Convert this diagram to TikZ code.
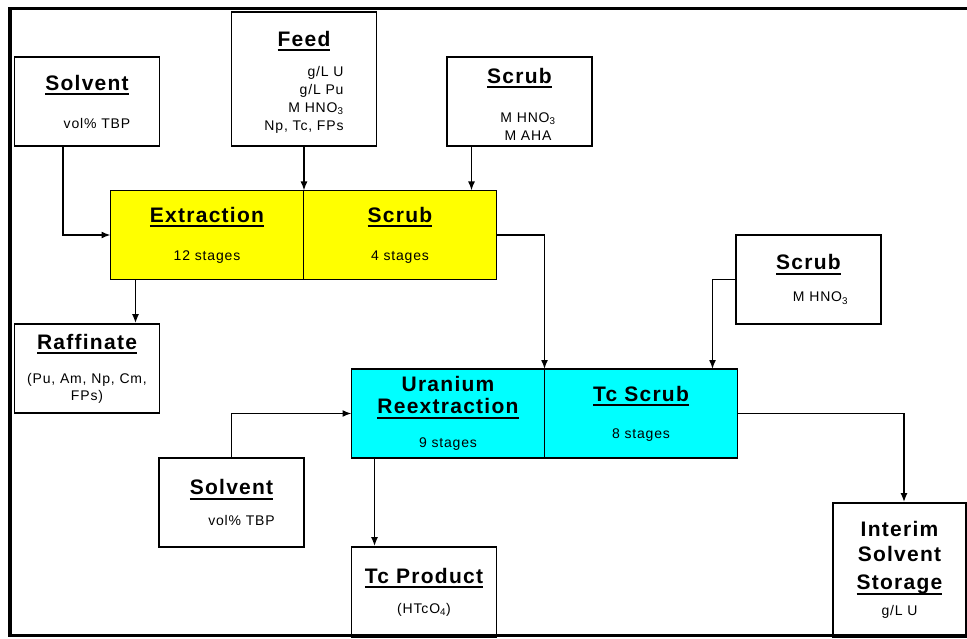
\documentclass[tikz,border=0pt]{standalone}
\usepackage{fontspec}
\setmainfont{Liberation Sans}[LetterSpace=6]
\usetikzlibrary{arrows.meta, positioning}
\definecolor{stageyellow}{RGB}{255,255,0}
\definecolor{stagecyan}{RGB}{0,255,255}
\newcommand{\tl}[1]{{\bfseries\fontsize{21}{24}\selectfont #1}}
\newcommand{\hd}[1]{\setbox0\hbox{\tl{#1}}\copy0\llap{\rule[-5pt]{\wd0}{2pt}}}

\begin{document}
\begin{tikzpicture}[-{Latex[length=9pt,width=7pt]}, x=1pt, y=-1pt, line width=1.5pt,
    box/.style={draw, line width=1.8pt, align=center, inner sep=0pt,
      minimum width=145pt, minimum height=89pt, font=\fontsize{14}{18}\selectfont},
    stage/.style={box, minimum width=193pt, outer sep=0pt}]
  \useasboundingbox (0,0) rectangle (967,639);
  \draw[-, line width=3.5pt] (967,8.5) -- (10,8.5) -- (10,635.5) -- (967,635.5);

  \node[box] (solA) at (87,101.5) {\hd{Solvent}\\[20pt]\hspace*{20pt}vol\% TBP};
  \node[box, minimum height=134pt] (feed) at (304,79) {\hd{Feed}\\[12pt]
    \begin{tabular}[t]{@{}r@{}}g/L U\hspace{7pt}\\ g/L Pu\\ M HNO\textsubscript{3}\\ Np, Tc, FPs\end{tabular}\\[-10pt]\mbox{}};
  \node[box] (scrA) at (519.5,101.5) {\hd{Scrub}\\[21pt]\hspace*{17pt}%
    \begin{tabular}[t]{@{}c@{}}M HNO\textsubscript{3}\\ M AHA\end{tabular}\\[-12pt]\mbox{}};

  \node[stage, fill=stageyellow] (extr) at (207,235) {\hd{Extraction}\\[20pt]12 stages};
  \node[stage, fill=stageyellow, right=0pt of extr] (scrb) {\hd{Scrub}\\[20pt]4 stages};

  \node[box] (raff) at (87,368.5) {\hd{Raffinate}\\[16pt](Pu, Am, Np, Cm,\\[-1pt]FPs)};
  \node[box] (scrB) at (808.5,279.5) {\hd{Scrub}\\[14pt]\hspace*{24pt}M HNO\textsubscript{3}};

  \node[stage, fill=stagecyan] (ur) at (448,413.5) {\tl{Uranium}\\[4pt]\hd{Reextraction}\\[16pt]9 stages};
  \node[stage, fill=stagecyan, right=0pt of ur] (tcs) {\hd{Tc Scrub}\\[19pt]8 stages};

  \node[box] (solB) at (231.5,502.5) {\hd{Solvent}\\[13pt]\hspace*{20pt}vol\% TBP};
  \node[box, minimum height=90pt] (tcp) at (424,592) {\hd{Tc Product}\\[12pt](HTcO\textsubscript{4})};
  \node[box, minimum width=133pt, minimum height=134pt] (inter) at (899.5,570)
    {\tl{Interim}\\[7pt]\tl{Solvent}\\[10pt]\hd{Storage}\\[8pt]g/L U};

  \coordinate (solAout) at ([xshift=-24pt]solA.south);
  \coordinate (scrAout) at ([xshift=-48pt]scrA.south);
  \coordinate (raffin) at ([xshift=25pt]extr.south west);
  \coordinate (tcpin) at ([xshift=23pt]ur.south west);
  \coordinate (scrBin) at ([xshift=-25pt]tcs.north east);
  \coordinate (interin) at ([xshift=4.5pt]inter.north);

  \draw (solAout) |- (extr.west);
  \draw (feed.south) -- (feed.south |- extr.north);
  \draw (scrAout) -- (scrAout |- scrb.north);
  \draw (raffin) -- (raffin |- raff.north);
  \draw (scrb.east) -| (ur.north east);
  \draw (solB.north) |- (ur.west);
  \draw (tcpin) -- (tcpin |- tcp.north);
  \draw (scrB.west) -| (scrBin);
  \draw (tcs.east) -| (interin);
\end{tikzpicture}
\end{document}
